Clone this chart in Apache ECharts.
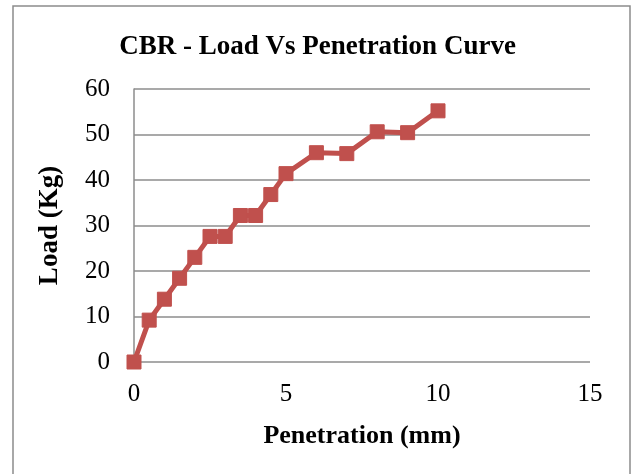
<!DOCTYPE html>
<html>
<head>
<meta charset="utf-8">
<script src="https://cdn.jsdelivr.net/npm/echarts@6/dist/echarts.min.js"></script>
<style>
  html, body { margin: 0; padding: 0; background: #fff; }
  #chart { width: 635px; height: 474px; }
</style>
</head>
<body>
<div id="chart"></div>
<script>
// CBR test: penetration (mm) against load (kg)
const penetration = [0, 0.5, 1, 1.5, 2, 2.5, 3, 3.5, 4, 4.5, 5, 6, 7, 8, 9, 10];
const load = [0, 9.2, 13.8, 18.4, 23.0, 27.6, 27.6, 32.2, 32.2, 36.8, 41.4, 46.0, 45.8, 50.6, 50.4, 55.2];
const xTicks = [0, 5, 10, 15];
const yTicks = [0, 10, 20, 30, 40, 50, 60];

const serif = '"Liberation Serif", "Times New Roman", serif';
const chart = echarts.init(document.getElementById('chart'));

chart.setOption({
  animation: false,
  backgroundColor: '#fff',
  title: {
    text: 'CBR - Load Vs Penetration Curve',
    left: 'center',
    top: 29,
    textStyle: { fontFamily: serif, fontWeight: 'bold', fontSize: 27, color: '#000' }
  },
  graphic: [{
    type: 'rect',
    shape: { x: 13, y: 6, width: 617, height: 480 },
    style: { fill: 'none', stroke: '#8c8c8c', lineWidth: 1.5 },
    silent: true
  }],
  grid: { left: 134, right: 45, top: 89, bottom: 112 },
  xAxis: {
    type: 'value',
    min: xTicks[0],
    max: xTicks[xTicks.length - 1],
    interval: 5,
    name: 'Penetration (mm)',
    nameLocation: 'middle',
    nameGap: 61,
    nameTextStyle: { fontFamily: serif, fontWeight: 'bold', fontSize: 26, color: '#000' },
    axisLine: { show: false },
    axisTick: { show: false },
    splitLine: { show: false },
    axisLabel: { fontFamily: serif, fontSize: 25, color: '#000', margin: 20 }
  },
  yAxis: {
    type: 'value',
    min: yTicks[0],
    max: yTicks[yTicks.length - 1],
    interval: 10,
    name: 'Load (Kg)',
    nameLocation: 'middle',
    nameGap: 70,
    nameTextStyle: { fontFamily: serif, fontWeight: 'bold', fontSize: 27, color: '#000' },
    axisLine: { show: true, lineStyle: { color: '#8c8c8c', width: 1.5 } },
    axisTick: { show: false },
    splitLine: { show: true, lineStyle: { color: '#8c8c8c', width: 1.5 } },
    axisLabel: { fontFamily: serif, fontSize: 25, color: '#000', margin: 24 }
  },
  series: [{
    type: 'line',
    data: penetration.map((p, i) => [p, load[i]]),
    symbol: 'rect',
    symbolSize: 14,
    showAllSymbol: true,
    lineStyle: { color: '#C0504D', width: 5 },
    itemStyle: { color: '#C0504D', borderColor: '#C0504D' }
  }]
});
</script>
</body>
</html>
